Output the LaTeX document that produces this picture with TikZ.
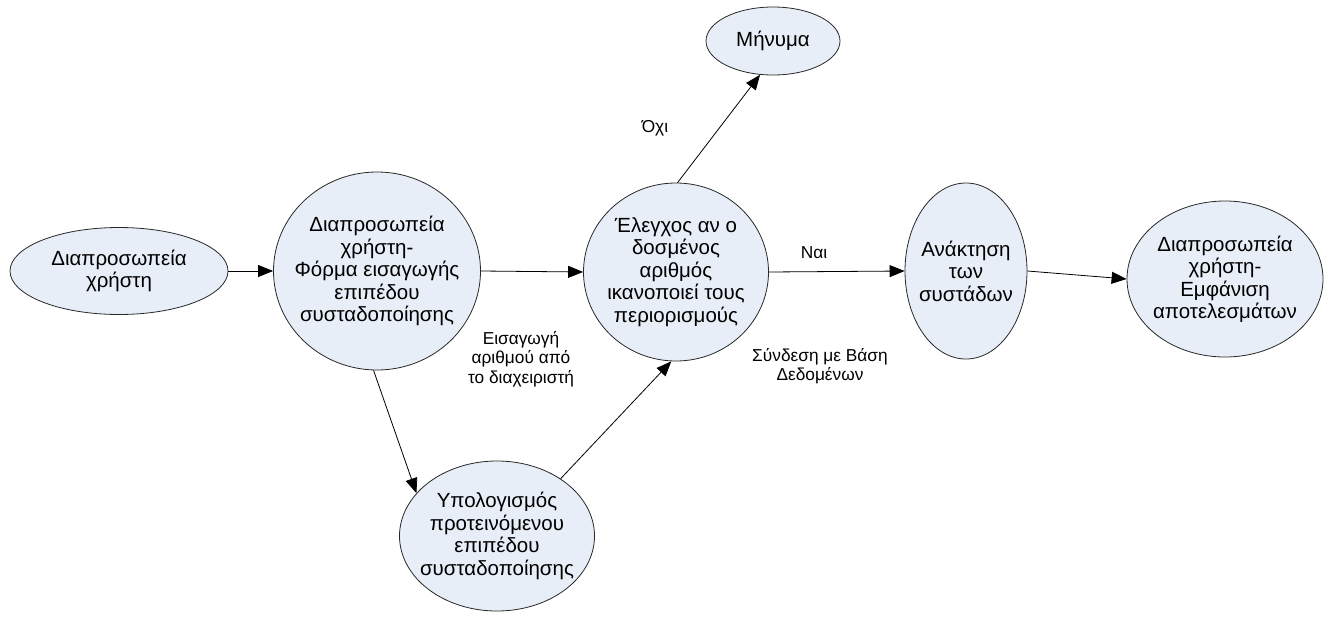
\documentclass[tikz,border=0pt]{standalone}
\usepackage{fontspec}
\setmainfont{Liberation Sans}
\usetikzlibrary{shapes.geometric,arrows.meta}
\definecolor{shapefill}{RGB}{232,238,247}
\definecolor{shapeline}{RGB}{40,40,40}
\tikzset{
  ell/.style={ellipse, draw=shapeline, fill=shapefill, line width=0.8pt, inner sep=0pt},
  txt/.style={align=center, font=\fontsize{20.5}{22.5}\selectfont, inner sep=0pt},
  lbl/.style={align=center, font=\fontsize{17.3}{19.5}\selectfont, inner sep=0pt},
  arr/.style={draw=black, line width=0.8pt, -{Triangle[length=15pt,width=12pt]}}
}
\begin{document}
\begin{tikzpicture}[x=1pt,y=-1pt]
\useasboundingbox (0,0) rectangle (1325,616);

% shapes
\node[ell, minimum width=218pt, minimum height=87pt]  (e1) at (119,271) {};
\node[ell, minimum width=207pt, minimum height=198pt] (e2) at (377,271) {};
\node[ell, minimum width=185pt, minimum height=178pt] (e3) at (676,272) {};
\node[ell, minimum width=134pt, minimum height=68pt]  (e4) at (773,41) {};
\node[ell, minimum width=122pt, minimum height=176pt] (e5) at (966,271) {};
\node[ell, minimum width=196pt, minimum height=156pt] (e6) at (1225,279) {};
\node[ell, minimum width=195pt, minimum height=150pt] (e7) at (497,536) {};

% texts
\node[txt] (t1) at (e1) {Διαπροσωπεία\\χρήστη};
\node[txt] (t2) at (e2) {Διαπροσωπεία\\χρήστη-\\Φόρμα εισαγωγής\\επιπέδου\\συσταδοποίησης};
\node[txt] (t3) at (e3) {Έλεγχος αν ο\\δοσμένος\\αριθμός\\ικανοποιεί τους\\περιορισμούς};
\node[txt] (t4) at (e4) {Μήνυμα};
\node[txt] (t5) at (e5) {Ανάκτηση\\των\\συστάδων};
\node[txt] (t6) at (e6) {Διαπροσωπεία\\χρήστη-\\Εμφάνιση\\αποτελεσμάτων};
\node[txt] (t7) at (e7) {Υπολογισμός\\προτεινόμενου\\επιπέδου\\συσταδοποίησης};

% connectors
\path[arr] (e1.east) -- (e2.west);
\path[arr] (e2.east) -- (e3.west);
\path[arr] (e3.89) -- (e4.249);
\path[arr] (e3.east) -- (e5.west);
\path[arr] (e5.east) -- (e6.west);
\path[arr] (e2.268) -- (e7.152);
\path[arr] (e7.42) -- (e3.267);

% edge labels
\node[lbl] (l1) at (655,128) {Όχι};
\node[lbl] (l2) at (814,253) {Ναι};
\node[lbl] (l3) at (521,359) {Εισαγωγή\\αριθμού από\\το διαχειριστή};
\node[lbl] (l4) at (820,366) {Σύνδεση με Βάση\\Δεδομένων};
\end{tikzpicture}
\end{document}
